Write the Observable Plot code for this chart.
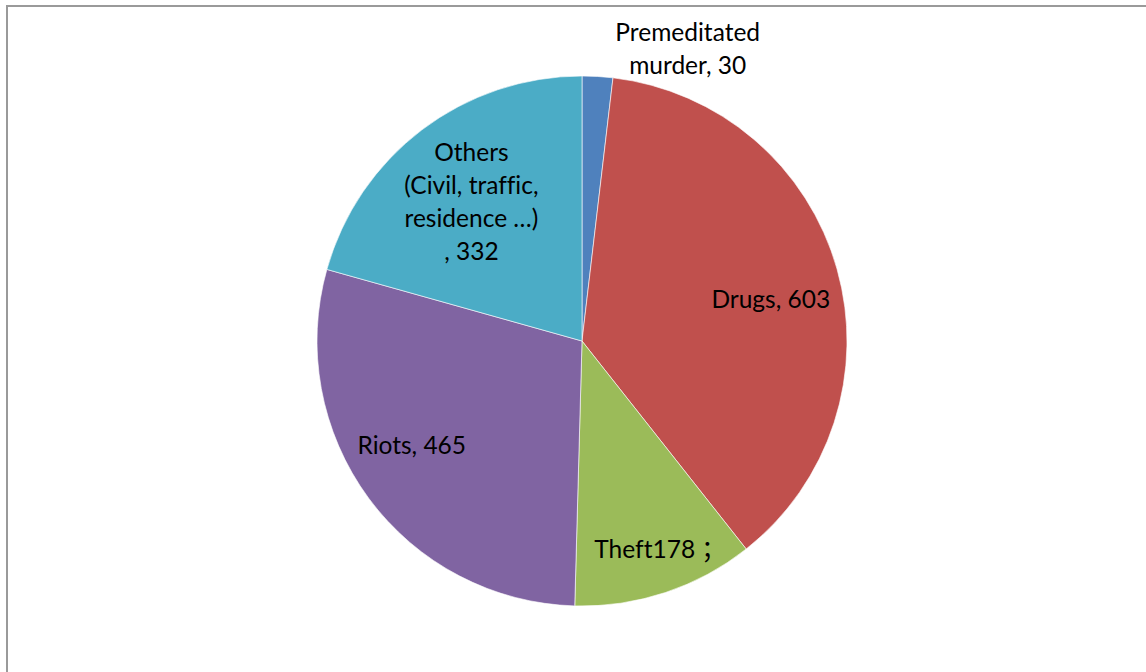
<!DOCTYPE html>
<html>
<head>
<meta charset="utf-8">
<script src="https://cdn.jsdelivr.net/npm/d3@7"></script>
<script src="https://cdn.jsdelivr.net/npm/@observablehq/plot@0.6"></script>
<style>
  html, body { margin: 0; padding: 0; background: #fff; overflow: hidden; }
  #frame { position: absolute; left: 6px; top: 5px; width: 1160px; height: 700px;
           border: 2px solid #9a9a9a; box-sizing: border-box; }
  #chart { position: absolute; left: 0; top: 0; }
  #chart text { font-variant-ligatures: none; }
</style>
</head>
<body>
<div id="frame"></div>
<div id="chart"></div>
<script>
// ---- data ----
const categories = ["Premeditated murder", "Drugs", "Theft", "Riots", "Others"];
const values = [30, 603, 178, 465, 332];
const labels = [
  "Premeditated\nmurder, 30",
  "Drugs, 603",
  "Theft178 \uFF1B",
  "Riots, 465",
  "Others\n(Civil, traffic,\nresidence \u2026)\n, 332"
];
const colors = ["#4F81BD", "#C0504D", "#9BBB59", "#8064A2", "#4BACC6"];

// ---- layout (label placement relative to slice, not data) ----
const labelRadius = [1.18, 0.73, 0.83, 0.75, 0.68];
const labelAngleShift = [16.3, 2.5, -2.3, 5.6, -0.9]; // degrees

const rows = categories.map((c, i) => ({category: c, value: values[i], label: labels[i], color: colors[i]}));
const pie = d3.pie().sort(null).value(d => d.value)(rows);
const labelRows = pie.map((p, i) => {
  const a = (p.startAngle + p.endAngle) / 2 + labelAngleShift[i] * Math.PI / 180;
  return {label: p.data.label, lx: labelRadius[i] * Math.sin(a), ly: labelRadius[i] * Math.cos(a)};
});

function slices(index, scales, values, dimensions, context) {
  const cx = scales.x(0), cy = scales.y(0);
  const r = scales.x(1) - scales.x(0);
  const arc = d3.arc().innerRadius(0).outerRadius(r);
  const g = d3.create("svg:g").attr("transform", `translate(${cx},${cy})`);
  g.selectAll("path").data(pie).join("path")
    .attr("d", arc)
    .attr("fill", d => d.data.color)
    .attr("stroke", "#ffffff")
    .attr("stroke-opacity", 0.6)
    .attr("stroke-width", 1);
  return g.node();
}

const plot = Plot.plot({
  width: 1146,
  height: 672,
  margin: 0,
  x: {domain: [-1, 1], range: [317, 847], axis: null},
  y: {domain: [-1, 1], range: [606, 76], axis: null},
  style: {background: "transparent", fontFamily: "Lato, 'Noto Sans CJK SC', sans-serif"},
  marks: [
    slices,
    Plot.text(labelRows, {
      x: "lx", y: "ly", text: "label",
      fontSize: 24.5, lineHeight: 1.35, fill: "#000", textAnchor: "middle"
    })
  ]
});
document.getElementById("chart").appendChild(plot);
</script>
</body>
</html>
